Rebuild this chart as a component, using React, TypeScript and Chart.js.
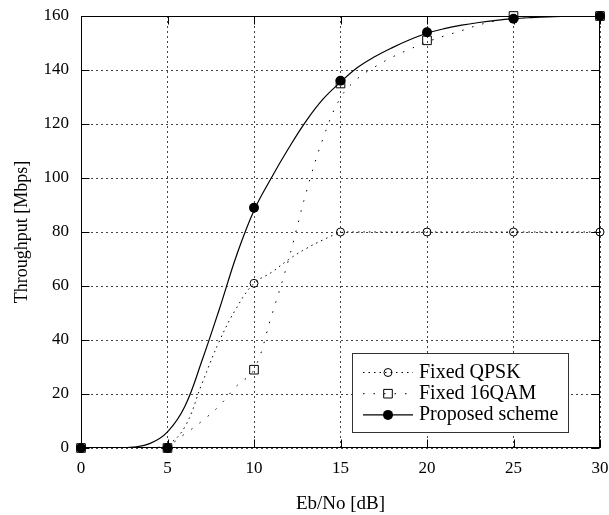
import { useEffect, useRef } from 'react';
import { Chart, registerables } from 'chart.js';

Chart.register(...registerables);

// ---- data ----
const curveX = [0, 1, 2, 3, 4, 5, 6, 7, 8, 9, 10, 11, 12, 13, 14, 15, 16, 17, 18, 19, 20, 21, 22, 23, 24, 25, 26, 27, 28, 29, 30];
const qpskCurve = [0, 0, 0, 0, 0.1, 1.2, 7.8, 24, 39.6, 52, 61, 65, 69.8, 73.8, 77.1, 79.7, 80, 80, 80, 80, 80, 80, 80, 80, 80, 80, 80, 80, 80, 80, 80];
const qam16Curve = [0, 0, 0, 0, 0, 0.9, 5.2, 10, 15.7, 23, 29, 48.7, 69.8, 94.3, 114.8, 129.7, 136.9, 141.2, 144.8, 147.7, 150.4, 152.6, 154.6, 156.7, 158.2, 159.3, 159.8, 160, 160, 160, 160];
const proposedCurve = [0, 0, 0, 0.3, 1.7, 6, 15.4, 32.5, 51.5, 71.5, 88, 100, 111, 121, 129.3, 135.5, 141, 145, 148.3, 151.2, 153.6, 155.3, 156.6, 157.6, 158.4, 159, 159.4, 159.7, 159.85, 159.95, 160];

const markerX = [0, 5, 10, 15, 20, 25, 30];
const qpskMarks = [0, 0, 61, 80, 80, 80, 80];
const qam16Marks = [0, 0, 29, 135, 151, 160, 160];
const proposedMarks = [0, 0, 89, 136, 154, 159, 160];

const seriesNames = ['Fixed QPSK', 'Fixed 16QAM', 'Proposed scheme'];
const xTitle = 'Eb/No [dB]';
const yTitle = 'Throughput [Mbps]';

const FONT = 'Liberation Serif, Times New Roman, serif';

const toPts = (xs: number[], ys: number[]) => xs.map((x, i) => ({ x, y: ys[i] }));

const frameTicksPlugin = {
  id: 'frameTicks',
  beforeDatasetsDraw(chart: any) {
    const { ctx, chartArea: ca, scales } = chart;
    const L = Math.round(ca.left) + 0.5;
    const R = Math.round(ca.right) - 0.5;
    const T = Math.round(ca.top) + 0.5;
    const B = Math.round(ca.bottom) - 0.5;
    ctx.save();
    ctx.strokeStyle = '#000';
    ctx.lineWidth = 1;
    ctx.setLineDash([]);
    ctx.strokeRect(L, T, R - L, B - T);
    const len = 8;
    ctx.beginPath();
    scales.x.ticks.forEach((t: any) => {
      const px = Math.round(scales.x.getPixelForValue(t.value)) + 0.5;
      ctx.moveTo(px, B);
      ctx.lineTo(px, B - len);
      ctx.moveTo(px, T);
      ctx.lineTo(px, T + len);
    });
    scales.y.ticks.forEach((t: any) => {
      const py = Math.round(scales.y.getPixelForValue(t.value)) + 0.5;
      ctx.moveTo(L, py);
      ctx.lineTo(L + len, py);
      ctx.moveTo(R, py);
      ctx.lineTo(R - len, py);
    });
    ctx.stroke();
    ctx.restore();
  },
};

const legendPlugin = {
  id: 'boxLegend',
  afterDraw(chart: any) {
    const { ctx, chartArea: ca } = chart;
    const w = 216;
    const h = 79;
    const right = Math.round(ca.right) - 32;
    const bottom = Math.round(ca.bottom) - 16;
    const left = right - w;
    const top = bottom - h;
    ctx.save();
    ctx.fillStyle = '#fff';
    ctx.fillRect(left, top, w, h);
    ctx.strokeStyle = '#333';
    ctx.lineWidth = 1;
    ctx.setLineDash([]);
    ctx.strokeRect(left + 0.5, top + 0.5, w, h);

    const styles = [
      { dash: [1.5, 4], width: 1, marker: 'circle' },
      { dash: [1.5, 9], width: 1, marker: 'rect' },
      { dash: [], width: 1.2, marker: 'filled' },
    ];
    seriesNames.forEach((name, i) => {
      const cy = top + 19.5 + i * 21.2;
      const st = styles[i];
      ctx.strokeStyle = '#000';
      ctx.lineWidth = st.width;
      ctx.setLineDash(st.dash);
      ctx.beginPath();
      ctx.moveTo(left + 11, cy);
      ctx.lineTo(left + 61, cy);
      ctx.stroke();
      ctx.setLineDash([]);
      const mx = left + 36;
      ctx.lineWidth = 1;
      ctx.beginPath();
      if (st.marker === 'circle') {
        ctx.arc(mx, cy, 4, 0, Math.PI * 2);
        ctx.stroke();
      } else if (st.marker === 'rect') {
        ctx.rect(mx - 4.3, cy - 4.3, 8.6, 8.6);
        ctx.stroke();
      } else {
        ctx.fillStyle = '#000';
        ctx.arc(mx, cy, 5, 0, Math.PI * 2);
        ctx.fill();
      }
      ctx.fillStyle = '#000';
      ctx.font = `20px ${FONT}`;
      ctx.textBaseline = 'middle';
      ctx.textAlign = 'left';
      ctx.fillText(name, left + 67, cy);
    });
    ctx.restore();
  },
};

const zeroPad = (s: any) => {
  s.paddingTop = 0;
  s.paddingBottom = 0;
  s.paddingLeft = 0;
  s.paddingRight = 0;
};

export default function App() {
  const ref = useRef<HTMLCanvasElement | null>(null);

  useEffect(() => {
    document.body.style.margin = '0';
    const canvas = ref.current;
    if (!canvas) return;
    const lineCommon = {
      showLine: true,
      pointRadius: 0,
      pointHoverRadius: 0,
      borderColor: '#000',
      backgroundColor: '#000',
      tension: 0.4,
      fill: false,
    };
    const chart = new Chart(canvas, {
      type: 'scatter',
      data: {
        datasets: [
          { ...lineCommon, label: seriesNames[0] + ' curve', data: toPts(curveX, qpskCurve), borderWidth: 1, borderDash: [1.5, 4] },
          { ...lineCommon, label: seriesNames[1] + ' curve', data: toPts(curveX, qam16Curve), borderWidth: 1, borderDash: [1.5, 9] },
          { ...lineCommon, label: seriesNames[2] + ' curve', data: toPts(curveX, proposedCurve), borderWidth: 1.2 },
          {
            label: seriesNames[0], data: toPts(markerX, qpskMarks), showLine: false,
            pointStyle: 'circle', pointRadius: 4, pointBorderColor: '#000', pointBackgroundColor: 'rgba(0,0,0,0)', pointBorderWidth: 1, clip: false,
          },
          {
            label: seriesNames[1], data: toPts(markerX, qam16Marks), showLine: false,
            pointStyle: 'rect', pointRadius: 6.1, pointBorderColor: '#000', pointBackgroundColor: 'rgba(0,0,0,0)', pointBorderWidth: 1, clip: false,
          },
          {
            label: seriesNames[2], data: toPts(markerX, proposedMarks), showLine: false,
            pointStyle: 'circle', pointRadius: 5, pointBorderColor: '#000', pointBackgroundColor: '#000', pointBorderWidth: 0, clip: false,
          },
        ] as any,
      },
      options: {
        responsive: false,
        animation: false,
        events: [],
        layout: { padding: { left: 4, right: 9, top: 16, bottom: 0 } },
        plugins: { legend: { display: false }, tooltip: { enabled: false } },
        scales: {
          x: {
            type: 'linear',
            min: 0,
            max: 30,
            afterFit: (s: any) => { s.height = 67; zeroPad(s); },
            ticks: { stepSize: 5, color: '#000', font: { family: FONT, size: 17 }, padding: 10, maxRotation: 0 },
            grid: { color: '#444', lineWidth: 1, drawTicks: false },
            border: { display: false, dash: [2, 3] },
            title: { display: true, text: xTitle, color: '#000', font: { family: FONT, size: 19 }, padding: { top: 0, bottom: 0 } },
          },
          y: {
            type: 'linear',
            min: 0,
            max: 160,
            afterFit: (s: any) => { s.width = 77; zeroPad(s); },
            ticks: { stepSize: 20, color: '#000', font: { family: FONT, size: 17 }, padding: 12 },
            grid: { color: '#444', lineWidth: 1, drawTicks: false },
            border: { display: false, dash: [2, 3] },
            title: { display: true, text: yTitle, color: '#000', font: { family: FONT, size: 18 }, padding: { top: 7, bottom: 0 } },
          },
        },
      } as any,
      plugins: [frameTicksPlugin, legendPlugin],
    });
    return () => chart.destroy();
  }, []);

  return (
    <div style={{ width: 609, height: 515 }}>
      <canvas ref={ref} width={609} height={515} style={{ display: 'block' }} />
    </div>
  );
}
